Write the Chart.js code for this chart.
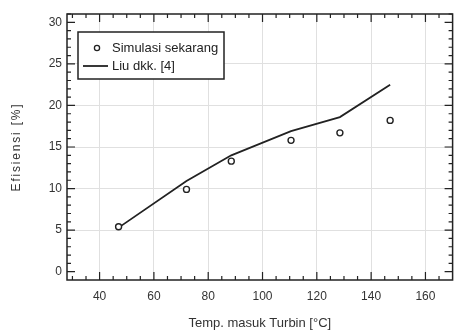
<!DOCTYPE html>
<html>
<head>
<meta charset="utf-8">
<script src="https://cdn.jsdelivr.net/npm/chart.js@4.4.0/dist/chart.umd.min.js"></script>
<style>
  html, body { margin: 0; padding: 0; background: #fff; }
  #wrap { width: 458px; height: 335px; }
</style>
</head>
<body>
<div id="wrap"><canvas id="chart" width="458" height="335"></canvas></div>
<script>
// ── Data ──────────────────────────────────────────────────────────────────────
const xMajor  = [40, 60, 80, 100, 120, 140, 160]
const xMinor  = [30, 35, 45, 50, 55, 65, 70, 75, 85, 90, 95, 105, 110, 115, 125, 130, 135, 145, 150, 155, 165]
const yMajor  = [0, 5, 10, 15, 20, 25, 30]
const yMinor  = [1, 2, 3, 4, 6, 7, 8, 9, 11, 12, 13, 14, 16, 17, 18, 19, 21, 22, 23, 24, 26, 27, 28, 29, 31]

const simLabel = 'Simulasi sekarang'
const simTemp  = [47, 72, 88.5, 110.5, 128.5, 147]
const simEff   = [5.4, 9.9, 13.3, 15.8, 16.7, 18.2]

const liuLabel = 'Liu dkk. [4]'
const liuTemp  = [47, 72, 88.5, 110.5, 128.5, 147]
const liuEff   = [5.3, 10.9, 14.0, 16.9, 18.6, 22.5]

const xTitle = 'Temp. masuk Turbin [°C]'
const yTitle = 'Efisiensi [%]'

const INK  = '#222'
const FONT = 'Liberation Sans, Arial, sans-serif'

// ── Plugins ───────────────────────────────────────────────────────────────────
// inward tick marks on all four sides + frame
const frameTicks = {
  id: 'frameTicks',
  afterDatasetsDraw(chart) {
    const { ctx, chartArea: a, scales: { x, y } } = chart
    ctx.save()
    ctx.strokeStyle = INK
    ctx.lineWidth = 1.2
    const tick = (vals, len) => {
      vals.forEach(v => {
        const px = x.getPixelForValue(v)
        if (px < a.left || px > a.right) return
        ctx.beginPath()
        ctx.moveTo(px, a.bottom); ctx.lineTo(px, a.bottom - len)
        ctx.moveTo(px, a.top);    ctx.lineTo(px, a.top + len)
        ctx.stroke()
      })
    }
    const tickY = (vals, len) => {
      vals.forEach(v => {
        const py = y.getPixelForValue(v)
        if (py < a.top || py > a.bottom) return
        ctx.beginPath()
        ctx.moveTo(a.left, py);  ctx.lineTo(a.left + len, py)
        ctx.moveTo(a.right, py); ctx.lineTo(a.right - len, py)
        ctx.stroke()
      })
    }
    tick(xMajor, 8); tick(xMinor, 4)
    tickY(yMajor, 8); tickY(yMinor, 4)
    ctx.lineWidth = 1.5
    ctx.strokeRect(a.left, a.top, a.right - a.left, a.bottom - a.top)

    // y-axis title, spaced out like the original
    ctx.translate(17, (a.top + a.bottom) / 2)
    ctx.rotate(-Math.PI / 2)
    ctx.font = `12px ${FONT}`
    if ('letterSpacing' in ctx) ctx.letterSpacing = '1.8px'
    ctx.fillStyle = '#333'
    ctx.textAlign = 'center'
    ctx.textBaseline = 'middle'
    ctx.fillText(yTitle, 0, 0)
    ctx.restore()
  },
}

// legend box in the top-left corner of the plot
const boxLegend = {
  id: 'boxLegend',
  afterDraw(chart) {
    const { ctx, chartArea: a } = chart
    const bx = a.left + 11, by = a.top + 18, bw = 146, bh = 47
    ctx.save()
    ctx.fillStyle = '#fff'
    ctx.fillRect(bx, by, bw, bh)
    ctx.strokeStyle = INK
    ctx.lineWidth = 1.5
    ctx.strokeRect(bx, by, bw, bh)

    ctx.font = `13px ${FONT}`
    ctx.fillStyle = INK
    ctx.textBaseline = 'middle'

    ctx.lineWidth = 1.3
    ctx.beginPath()
    ctx.arc(bx + 19, by + 16, 2.6, 0, Math.PI * 2)
    ctx.stroke()
    ctx.fillText(chart.data.datasets[0].label, bx + 34, by + 16)

    ctx.lineWidth = 1.8
    ctx.beginPath()
    ctx.moveTo(bx + 5, by + 34); ctx.lineTo(bx + 30, by + 34)
    ctx.stroke()
    ctx.fillText(chart.data.datasets[1].label, bx + 34, by + 34)
    ctx.restore()
  },
}

// ── Chart ─────────────────────────────────────────────────────────────────────
new Chart(document.getElementById('chart'), {
  type: 'scatter',
  data: {
    datasets: [
      {
        label: simLabel,
        data: simTemp.map((t, i) => ({ x: t, y: simEff[i] })),
        showLine: false,
        pointStyle: 'circle',
        pointRadius: 3,
        pointBorderWidth: 1.4,
        pointBorderColor: INK,
        pointBackgroundColor: '#fff',
      },
      {
        label: liuLabel,
        data: liuTemp.map((t, i) => ({ x: t, y: liuEff[i] })),
        showLine: true,
        borderColor: INK,
        borderWidth: 1.8,
        pointRadius: 0,
        tension: 0,
      },
    ],
  },
  options: {
    responsive: false,
    animation: false,
    layout: { padding: { top: 14, right: 2, left: 0, bottom: 0 } },
    plugins: { legend: { display: false }, tooltip: { enabled: false } },
    scales: {
      x: {
        type: 'linear',
        min: 28,
        max: 170,
        afterBuildTicks: s => { s.ticks = xMajor.map(v => ({ value: v })) },
        afterFit: s => { s.height = 55 },
        grid: { color: '#e0e0e0', lineWidth: 1, drawTicks: false },
        border: { display: false },
        ticks: {
          autoSkip: false, maxRotation: 0, padding: 9,
          color: '#333', font: { family: FONT, size: 12 },
        },
        title: {
          display: true, text: xTitle,
          color: '#333', font: { family: FONT, size: 13 },
          padding: { top: 0, bottom: 4 },
        },
      },
      y: {
        type: 'linear',
        min: -1,
        max: 31,
        afterBuildTicks: s => { s.ticks = yMajor.map(v => ({ value: v })) },
        afterFit: s => { s.width = 67 },
        grid: {
          color: ctx => (ctx.tick && (ctx.tick.value === 0 || ctx.tick.value === 30)) ? 'rgba(0,0,0,0)' : '#e0e0e0',
          lineWidth: 1, drawTicks: false,
        },
        border: { display: false },
        ticks: {
          autoSkip: false, padding: 5,
          color: '#333', font: { family: FONT, size: 12 },
        },
        title: { display: false },
      },
    },
  },
  plugins: [frameTicks, boxLegend],
})
</script>
</body>
</html>
